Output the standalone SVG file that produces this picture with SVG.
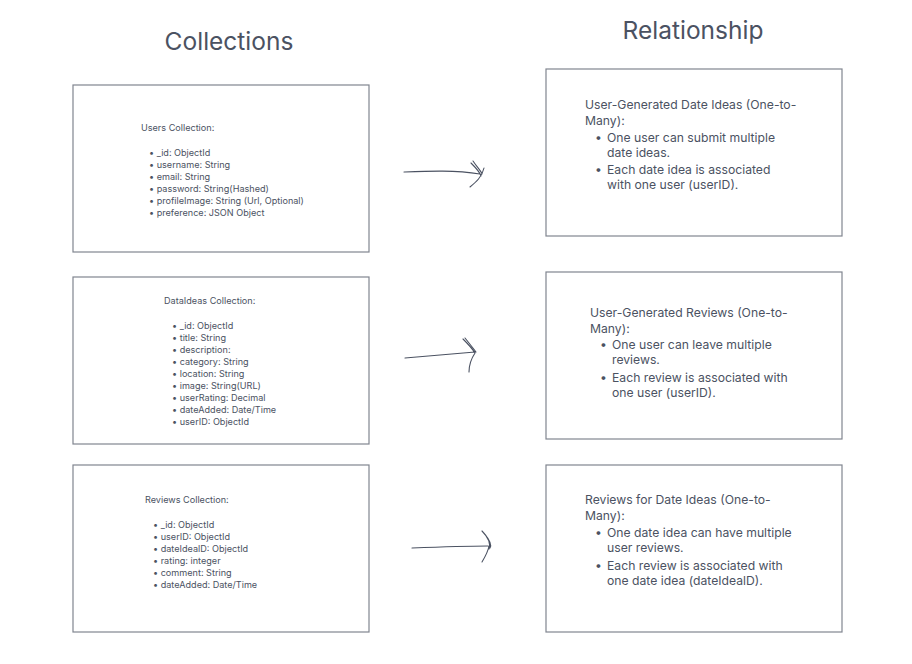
<svg xmlns="http://www.w3.org/2000/svg" width="912" height="664" viewBox="0 0 912 664">
<defs>
<style>
.box{fill:#fff;stroke:#80858f;stroke-width:1.2}
.t{font-family:Inter,"Liberation Sans",sans-serif;fill:#4b5262}
.h{font-size:24.5px}
.s{font-size:9.1px}
.m{font-size:12.2px}
.arr{fill:none;stroke:#4b5262;stroke-width:1.1;stroke-linecap:round;stroke-linejoin:round}
</style>
</defs>
<rect width="912" height="664" fill="#fff"/>
<text class="t h" x="229" y="50" text-anchor="middle">Collections</text>
<text class="t h" x="693" y="39" text-anchor="middle">Relationship</text>

<g id="users">
<rect class="box" x="73" y="85" width="296" height="167"/>
<text class="t s" x="141" y="131">Users Collection:</text>
<g class="t s">
<text x="149" y="156">•  _id: ObjectId</text>
<text x="149" y="168">•  username: String</text>
<text x="149" y="180">•  email: String</text>
<text x="149" y="192">•  password: String(Hashed)</text>
<text x="149" y="204">•  profileImage: String (Url, Optional)</text>
<text x="149" y="216">•  preference: JSON Object</text>
</g>
</g>

<g id="dataideas">
<rect class="box" x="73" y="277" width="296" height="167"/>
<text class="t s" x="164" y="304">DataIdeas Collection:</text>
<g class="t s">
<text x="172" y="329">•  _id: ObjectId</text>
<text x="172" y="341">•  title: String</text>
<text x="172" y="353">•  description:</text>
<text x="172" y="365">•  category: String</text>
<text x="172" y="377">•  location: String</text>
<text x="172" y="389">•  image: String(URL)</text>
<text x="172" y="401">•  userRating: Decimal</text>
<text x="172" y="413">•  dateAdded: Date/Time</text>
<text x="172" y="425">•  userID: ObjectId</text>
</g>
</g>

<g id="reviews">
<rect class="box" x="73" y="465" width="296" height="167"/>
<text class="t s" x="145" y="503">Reviews Collection:</text>
<g class="t s">
<text x="153" y="528">•  _id: ObjectId</text>
<text x="153" y="540">•  userID: ObjectId</text>
<text x="153" y="552">•  dateIdealD: ObjectId</text>
<text x="153" y="564">•  rating: integer</text>
<text x="153" y="576">•  comment: String</text>
<text x="153" y="588">•  dateAdded: Date/Time</text>
</g>
</g>

<g id="rel1">
<rect class="box" x="546" y="69" width="296" height="167"/>
<g class="t m">
<text x="585" y="109">User-Generated Date Ideas (One-to-</text>
<text x="585" y="125">Many):</text>
<text x="595" y="142">•</text><text x="607" y="142">One user can submit multiple</text>
<text x="607" y="157">date ideas.</text>
<text x="595" y="174">•</text><text x="607" y="174">Each date idea is associated</text>
<text x="607" y="189">with one user (userID).</text>
</g>
</g>

<g id="rel2">
<rect class="box" x="546" y="272" width="296" height="167"/>
<g class="t m">
<text x="590" y="317">User-Generated Reviews (One-to-</text>
<text x="590" y="333">Many):</text>
<text x="600" y="349">•</text><text x="612" y="349">One user can leave multiple</text>
<text x="612" y="364">reviews.</text>
<text x="600" y="382">•</text><text x="612" y="382">Each review is associated with</text>
<text x="612" y="397">one user (userID).</text>
</g>
</g>

<g id="rel3">
<rect class="box" x="546" y="465" width="296" height="167"/>
<g class="t m">
<text x="585" y="504">Reviews for Date Ideas (One-to-</text>
<text x="585" y="520">Many):</text>
<text x="595" y="537">•</text><text x="607" y="537">One date idea can have multiple</text>
<text x="607" y="552">user reviews.</text>
<text x="595" y="570">•</text><text x="607" y="570">Each review is associated with</text>
<text x="607" y="585">one date idea (dateIdealD).</text>
</g>
</g>

<g id="connectors">
<path class="arr" d="M404 172 C430 171 455 170 480 174 M471 163 C476 168 480 172 481 176 M473 161 C477 167 481 171 482 174 M484 168 C482 177 476 182 470 187"/>
<path class="arr" d="M405 358 C428 356 452 354 475 352 M463 339 C468 344 472 348 475 353 M465 338 C469 343 473 348 476 352 M475 353 C471 359 469 365 469 372"/>
<path class="arr" d="M412 548 C437 547 462 546 488 546 M482 531 C488 537 491 543 489 549 M484 533 C489 539 492 545 490 548 M489 546 C488 552 485 557 482 562"/>
</g>
</svg>
